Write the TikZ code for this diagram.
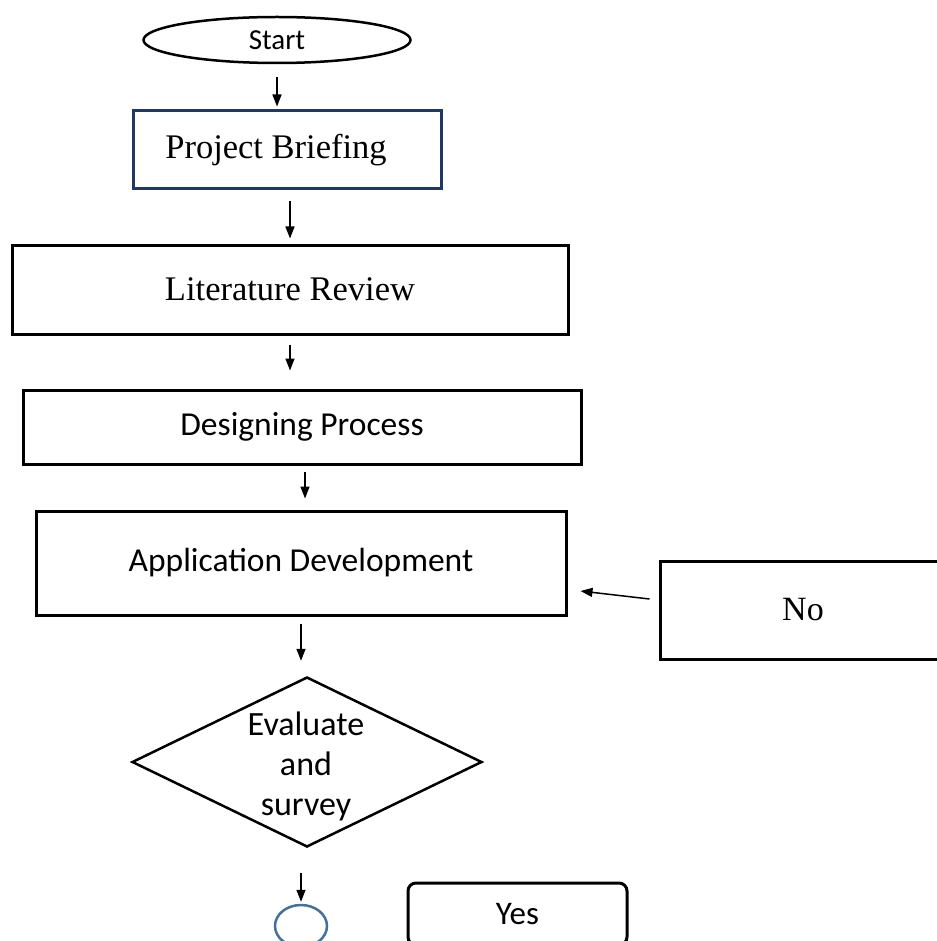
\documentclass[tikz,border=0pt]{standalone}
\usepackage{fontspec}
\setmainfont{Liberation Serif}
\newfontfamily\calibri{Carlito}
\usetikzlibrary{shapes.geometric,arrows.meta}
\definecolor{boxblue}{HTML}{1F3864}
\definecolor{circblue}{HTML}{41719C}
\tikzset{
  box/.style={draw, line width=3pt, rectangle, inner sep=0pt},
  serifbox/.style={box, font=\fontsize{34.5}{40}\selectfont},
  sansbox/.style={box, font=\calibri\fontsize{33.5}{40}\selectfont},
  flow/.style={line width=1.5pt, -{Triangle[length=12pt,width=9pt]}},
}
\begin{document}
\begin{tikzpicture}[x=1pt,y=-1pt]
\useasboundingbox (0,0) rectangle (936,941);
\node[ellipse, draw, line width=2.5pt, minimum width=267pt, minimum height=46pt, inner sep=0pt,
  font=\calibri\fontsize{29}{34}\selectfont] (start) at (277,40) {Start};
\node[serifbox, draw=boxblue, minimum width=308pt, minimum height=78pt] (pb) at (287,150) {\hspace*{-22pt}Project Briefing};
\node[serifbox, minimum width=556pt, minimum height=89pt] (lr) at (290,289.5) {Literature Review};
\node[sansbox, minimum width=558pt, minimum height=74pt] (dp) at (302,427) {Designing Process};
\node[sansbox, minimum width=530pt, minimum height=104pt] (ad) at (301,563) {Application Development};
\node[serifbox, minimum width=286pt, minimum height=98pt, font=\fontsize{34}{40}\selectfont] (no) at (803,610) {No};
\node[diamond, draw, line width=2.5pt, minimum width=350pt, minimum height=170pt, inner sep=0pt] (ev) at (307,762) {};
\node[align=center, font=\calibri\fontsize{34}{40}\selectfont, inner sep=0pt] (evt) at (306,766) {Evaluate\\and\\survey};
\node[ellipse, draw=circblue, line width=2.5pt, minimum width=52pt, minimum height=42pt, inner sep=0pt] (end) at (301,926) {};
\node[draw, rounded corners=8pt, line width=3pt, minimum width=219pt, minimum height=62pt, inner sep=0pt,
  font=\calibri\fontsize{33}{40}\selectfont] (yes) at (517.5,914) {Yes};

\draw[flow, shorten <=13pt, shorten >=3pt] (start.south) -- (start.south |- pb.north);
\draw[flow, shorten <=11pt, shorten >=5pt] (lr.north |- pb.south) -- (lr.north);
\draw[flow, shorten <=9pt, shorten >=18pt] (lr.south) -- (lr.south |- dp.north);
\draw[flow, shorten <=6pt, shorten >=11pt] ([xshift=3pt]dp.south) -- ([xshift=3pt]dp.south |- ad.north);
\draw[flow, shorten <=7pt, shorten >=15pt] (ad.south) -- (ad.south |- ev.north);
\draw[flow, shorten <=25pt, shorten >=2pt] (end.north |- ev.south) -- (end.north);
\draw[flow] ([xshift=-9pt,yshift=11pt]no.west) -- ([xshift=13pt,yshift=-28pt]ad.east);
\end{tikzpicture}
\end{document}
